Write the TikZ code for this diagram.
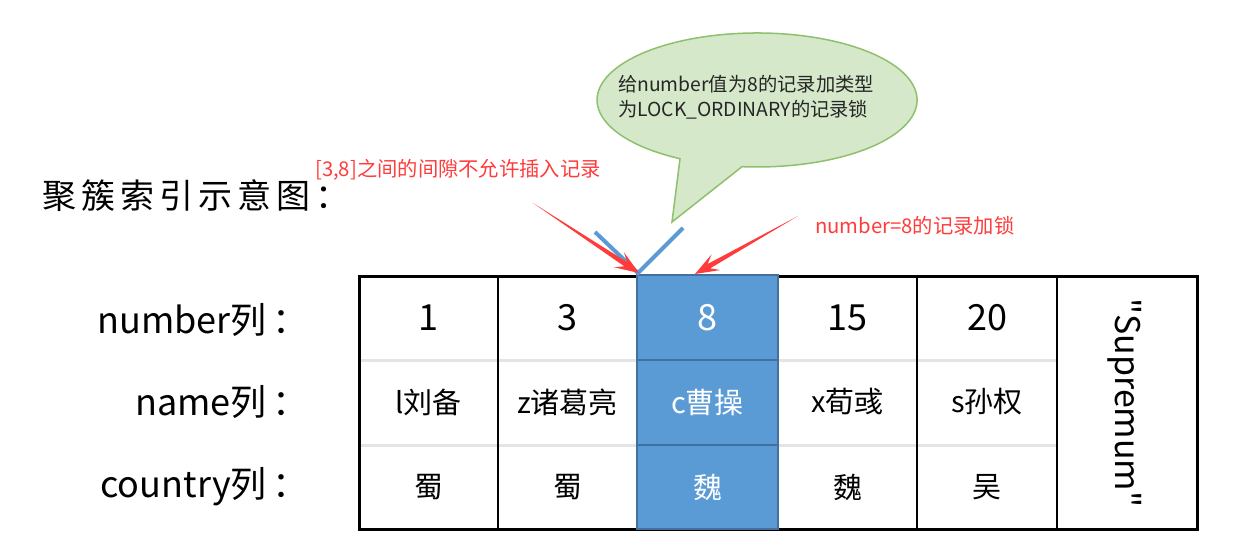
\documentclass[tikz,border=0pt]{standalone}
\usepackage{fontspec}
\setmainfont{Noto Sans CJK SC}
\newfontfamily\nomap{Noto Sans CJK SC}
\usetikzlibrary{calc}
\definecolor{bluefill}{HTML}{5B9BD5}
\definecolor{blueedge}{HTML}{41719C}
\definecolor{rowgray}{HTML}{E4E4E4}
\definecolor{arrowred}{HTML}{FF3B3B}
\definecolor{bubblefill}{HTML}{D5E8CA}
\definecolor{bubbleedge}{HTML}{8FC06E}
\newcommand\fs[1]{\fontsize{#1}{#1}\selectfont}
\newcommand\taperarrow[2]{%
  \coordinate (#2-nb) at ($(#2)!16pt!(#1)$);
  \coordinate (#2-wb) at ($(#2)!24pt!(#1)$);
  \fill[arrowred] (#1) -- ($(#2-nb)!2.5pt!90:(#2)$) -- ($(#2-wb)!9pt!90:(#2)$) -- (#2)
    -- ($(#2-wb)!9pt!-90:(#2)$) -- ($(#2-nb)!2.5pt!-90:(#2)$) -- cycle;}
\begin{document}
\begin{tikzpicture}[x=1pt,y=1pt,
  lbl/.style={inner sep=0pt, anchor=east, font=\fs{36}},
  numcell/.style={inner sep=0pt, font=\fs{36}},
  txtcell/.style={inner sep=0pt, font=\fs{29}},
  redtxt/.style={inner sep=0pt, anchor=west, text=arrowred, font=\fs{20.3}},
  bluecell/.style={text=white}]
\useasboundingbox (0,0) rectangle (1239,550);
% title
\node[inner sep=0pt, anchor=west, font=\fs{34}] (title) at (42,354)
  {聚\kern5pt 簇\kern5pt 索\kern5pt 引\kern5pt 示\kern5pt 意\kern5pt 图\kern5pt ：};
% row labels
\node[lbl] (lnum) at (309,230) {number列\kern6pt：};
\node[lbl] (lname) at (309,148) {name列\kern6pt：};
\node[lbl] (lcty) at (309,63) {country列\kern6pt：};
% table grid
\draw[rowgray, line width=3pt] (359,190) -- (1057,190) (359,105) -- (1057,105);
\draw[black, line width=2.5pt] (498,21) -- (498,274) (637,21) -- (637,274)
  (778,21) -- (778,274) (917,21) -- (917,274) (1057,21) -- (1057,274);
\draw[black, line width=3pt] (359,21) rectangle (1197,274);
% highlighted column
\draw[fill=bluefill, draw=blueedge, line width=1.5pt] (637,21) rectangle (778,275);
\draw[blueedge, line width=1.5pt] (637,190) -- (778,190) (637,105) -- (778,105);
% cells
\node[numcell] (n1) at (428.5,232) {1};
\node[numcell] (n3) at (567.5,232) {3};
\node[numcell,bluecell] (n8) at (707.5,232) {8};
\node[numcell] (n15) at (847.5,232) {15};
\node[numcell] (n20) at (987,232) {20};
\node[txtcell] (m1) at (428.5,148) {l刘备};
\node[txtcell] (m3) at (567.5,148) {z诸葛亮};
\node[txtcell,bluecell] (m8) at (707.5,148) {c曹操};
\node[txtcell] (m15) at (847.5,148) {x荀彧};
\node[txtcell] (m20) at (987,148) {s孙权};
\node[txtcell] (c1) at (428.5,63) {蜀};
\node[txtcell] (c3) at (567.5,63) {蜀};
\node[txtcell,bluecell] (c8) at (707.5,63) {魏};
\node[txtcell] (c15) at (847.5,63) {魏};
\node[txtcell] (c20) at (987,63) {吴};
\node[inner sep=0pt, font=\fs{34}, rotate=-90] (sup) at (1125,147) {\nomap "Supremum"};
% speech bubble
\coordinate (tip) at (672,328);
\filldraw[fill=bubblefill, draw=bubbleedge, line width=1.5pt]
  (tip) -- (680,391.3) arc[start angle=241.2, end angle=-95.4, x radius=160, y radius=67] -- cycle;
\node[inner sep=0pt, anchor=west, align=left, font=\fs{19.3}, text=black!85]
  (bubtxt) at (618,452.5) {给number值为8的记录加类型\\[5.5pt]为LOCK\_ORDINARY的记录锁};
% blue V mark
\coordinate (vl) at (595,318);
\coordinate (vtip) at (638,277);
\coordinate (vr) at (683,322);
\draw[bluefill, line width=4pt] (vl) -- (vtip) -- (vr);
% red labels and arrows
\node[redtxt] (gaptxt) at (315,380) {[3,8]之间的间隙不允许插入记录};
\node[redtxt] (locktxt) at (815,324) {number=8的记录加锁};
\coordinate (gapS) at (533,347);
\coordinate (gapT) at (639,277);
\coordinate (lockS) at (798,334);
\coordinate (lockT) at (695,276);
\taperarrow{gapS}{gapT}
\taperarrow{lockS}{lockT}
\end{tikzpicture}
\end{document}
